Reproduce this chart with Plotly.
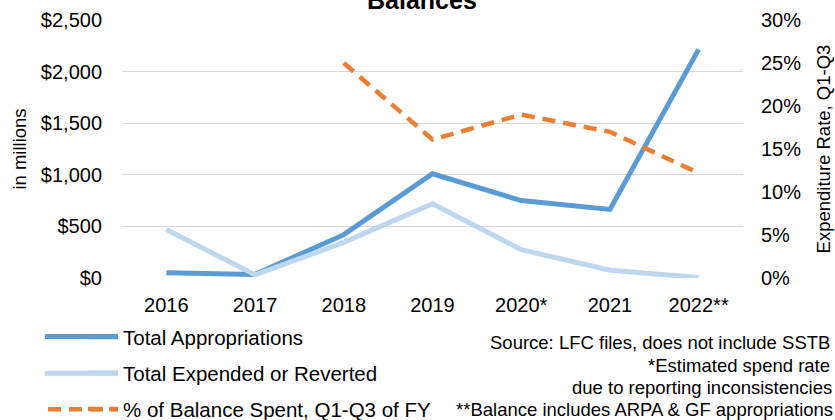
import plotly.graph_objects as go

years = ["2016", "2017", "2018", "2019", "2020*", "2021", "2022**"]
total_appropriations = [50, 35, 420, 1010, 750, 665, 2215]
total_expended = [470, 30, 345, 720, 275, 75, 5]
pct_spent_years = ["2018", "2019", "2020*", "2021", "2022**"]
pct_spent = [0.25, 0.161, 0.19, 0.17, 0.122]

left_ticks = [0, 500, 1000, 1500, 2000, 2500]
left_tick_labels = ["$0", "$500", "$1,000", "$1,500", "$2,000", "$2,500"]
right_ticks = [0, 0.05, 0.10, 0.15, 0.20, 0.25, 0.30]
right_tick_labels = ["0%", "5%", "10%", "15%", "20%", "25%", "30%"]

notes = [
    "Source: LFC files, does not include SSTB",
    "*Estimated spend rate",
    "due to reporting inconsistencies",
    "**Balance includes ARPA & GF appropriations",
]

FONT = "Liberation Sans, Arial, sans-serif"
BLUE = "#5B9BD5"
LIGHT = "#BDD7EE"
ORANGE = "#ED7D31"

W, H = 835, 420
ml, mt = 122, 20
plot_r, plot_b = 743, 278.5
mr, mb = W - plot_r, H - plot_b
PW, PH = plot_r - ml, plot_b - mt


def px(x):
    return (x - ml) / PW


def py(y):
    return (plot_b - y) / PH


fig = go.Figure()
fig.add_trace(go.Scatter(
    x=years, y=total_appropriations, name="Total Appropriations",
    mode="lines", line=dict(color=BLUE, width=5),
    legendgroup="a", yaxis="y"))
fig.add_trace(go.Scatter(
    x=years, y=total_expended, name="Total Expended or Reverted",
    mode="lines", line=dict(color=LIGHT, width=5),
    legendgroup="b", yaxis="y"))
fig.add_trace(go.Scatter(
    x=pct_spent_years, y=pct_spent, name="% of Balance Spent, Q1-Q3 of FY",
    mode="lines", line=dict(color=ORANGE, width=4.5, dash="13px,8px"),
    legendgroup="c", yaxis="y2"))

legend_x = 123 - 40
legend_top = 317.5

fig.update_layout(
    width=W, height=H,
    margin=dict(l=ml, r=mr, t=mt, b=mb, autoexpand=False),
    paper_bgcolor="white", plot_bgcolor="white",
    font=dict(family=FONT, size=20, color="#000000"),
    showlegend=True,
    legend=dict(
        x=px(legend_x), xanchor="left",
        y=py(legend_top), yanchor="top",
        orientation="v", traceorder="grouped", tracegroupgap=6.5,
        font=dict(size=20.5), bgcolor="rgba(0,0,0,0)",
    ),
    xaxis=dict(
        type="category", categoryorder="array", categoryarray=years,
        showgrid=False, showline=False, ticks="", ticklabelstandoff=13,
        tickfont=dict(size=20), range=[-0.5, 6.5],
    ),
    yaxis=dict(
        range=[0, 2500], tickvals=left_ticks, ticktext=left_tick_labels,
        showgrid=True, gridcolor="#D9D9D9", gridwidth=1.3, zeroline=False,
        showline=False, ticks="", ticklabelstandoff=19,
        tickfont=dict(size=20),
        title=dict(text="in millions", standoff=9, font=dict(size=18.5)),
    ),
    yaxis2=dict(
        overlaying="y", side="right",
        range=[0, 0.30], tickvals=right_ticks, ticktext=right_tick_labels,
        showgrid=False, zeroline=False, showline=False, ticks="",
        ticklabelstandoff=17, tickfont=dict(size=20),
        title=dict(text="Expenditure Rate, Q1-Q3", standoff=16, font=dict(size=18.5)),
    ),
)

# title (its top is cut off in the reference)
fig.add_annotation(
    text="<b>Balances</b>", xref="paper", yref="paper",
    x=px(422), y=py(16),
    xanchor="center", yanchor="bottom", showarrow=False,
    font=dict(size=25, family=FONT),
)

# longer legend keys, as in the reference
row_y = [337, 374, 410]
key_styles = [
    dict(color=BLUE, width=5, start=45),
    dict(color=LIGHT, width=5, start=45),
    dict(color=ORANGE, width=4.5, dash="13px,8px", start=48),
]
for yy, st in zip(row_y, key_styles):
    line = dict(color=st["color"], width=st["width"])
    if "dash" in st:
        line["dash"] = st["dash"]
    fig.add_shape(
        type="line", xref="paper", yref="paper",
        x0=px(st["start"]), x1=px(118), y0=py(yy), y1=py(yy),
        line=line, layer="above",
    )

note_y = [343, 366, 388, 410]
note_right = [832, 832, 834, 835]
for t, yy, xr in zip(notes, note_y, note_right):
    fig.add_annotation(
        text=t, xref="paper", yref="paper",
        x=px(xr), y=py(yy),
        xanchor="right", yanchor="middle", showarrow=False,
        font=dict(size=18.5, family=FONT),
    )

fig.write_html(
    "out.html",
    config={"displayModeBar": False},
    post_script="document.body.style.margin='0';",
)
